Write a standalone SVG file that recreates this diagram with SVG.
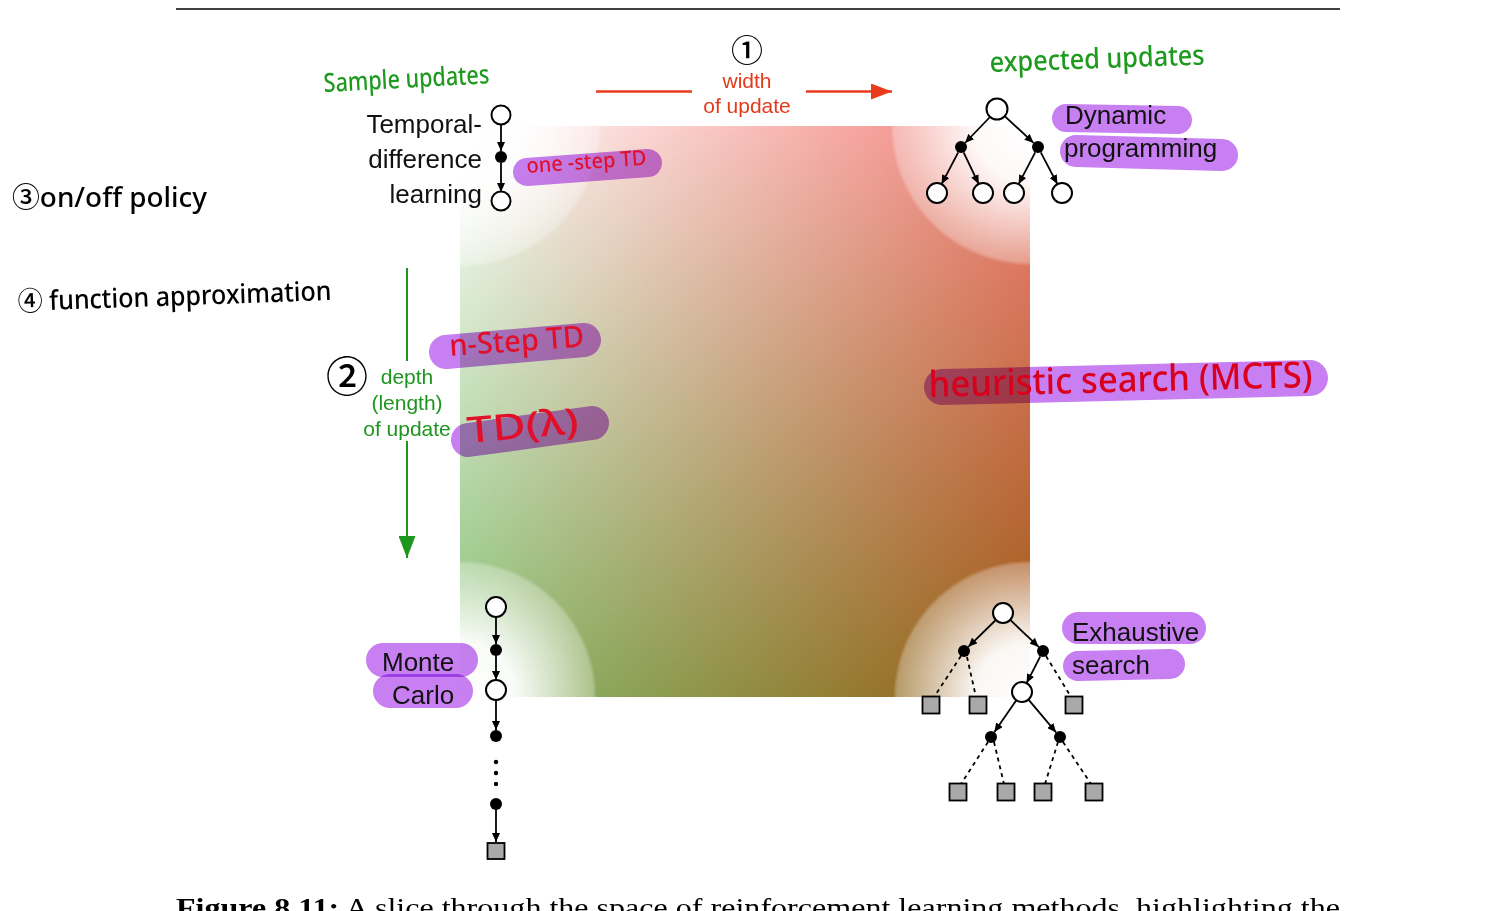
<svg xmlns="http://www.w3.org/2000/svg" width="1500" height="911" viewBox="0 0 1500 911">
<style>
.lbl{font-family:"Liberation Sans",Arial,sans-serif;font-size:26px;fill:#111}
.ax{font-family:"Liberation Sans",Arial,sans-serif;font-size:21px}
.hw{font-family:"Noto Sans","Noto Sans CJK SC",sans-serif;font-weight:500}
.hl{fill:none;stroke:#c77ff2;stroke-linecap:round;mix-blend-mode:multiply}
.open{fill:#fff;stroke:#000;stroke-width:2}
.fill{fill:#000}
.sq{fill:#a9a9a9;stroke:#000;stroke-width:1.8}
.ar{stroke:#000;stroke-width:1.8;fill:none;marker-end:url(#ah)}
.ds{stroke:#000;stroke-width:1.8;fill:none;stroke-dasharray:4 4}
</style>
<defs>
<marker id="ah" markerUnits="userSpaceOnUse" markerWidth="9" markerHeight="8" refX="9" refY="4" orient="auto"><path d="M0,0 L9,4 L0,8 z" fill="#000"/></marker>
<marker id="ahr" markerUnits="userSpaceOnUse" markerWidth="21" markerHeight="16" refX="21" refY="8" orient="auto"><path d="M0,0 L21,8 L0,16 z" fill="#ea3a1c"/></marker>
<marker id="ahg" markerUnits="userSpaceOnUse" markerWidth="22" markerHeight="17" refX="22" refY="8.5" orient="auto"><path d="M0,0 L22,8.5 L0,17 z" fill="#1e951e"/></marker>
<linearGradient id="gTop" x1="0" y1="0" x2="1" y2="0"><stop offset="0" stop-color="#ffffff"/><stop offset="1" stop-color="#f27f78"/></linearGradient>
<linearGradient id="gBot" x1="0" y1="0" x2="1" y2="0"><stop offset="0" stop-color="#84bf70"/><stop offset="1" stop-color="#9c5a14"/></linearGradient>
<linearGradient id="vm" x1="0" y1="0" x2="0" y2="1"><stop offset="0" stop-color="#fff" stop-opacity="0"/><stop offset="1" stop-color="#fff" stop-opacity="1"/></linearGradient>
<mask id="m" maskUnits="userSpaceOnUse" x="460" y="126" width="570" height="571"><rect x="460" y="126" width="570" height="571" fill="url(#vm)"/></mask>
<radialGradient id="corner"><stop offset="0" stop-color="#fff" stop-opacity="1"/><stop offset="0.4" stop-color="#fff" stop-opacity="0.95"/><stop offset="0.97" stop-color="#fff" stop-opacity="0.3"/><stop offset="1" stop-color="#fff" stop-opacity="0"/></radialGradient>
<clipPath id="sqc"><rect x="460" y="126" width="570" height="571"/></clipPath>
</defs>
<rect width="1500" height="911" fill="#fff"/>
<line x1="176" y1="9" x2="1340" y2="9" stroke="#000" stroke-width="1.4"/>

<g id="space">
<rect x="460" y="126" width="570" height="571" fill="url(#gTop)"/>
<rect x="460" y="126" width="570" height="571" fill="url(#gBot)" mask="url(#m)"/>
<g clip-path="url(#sqc)">
<circle cx="460" cy="126" r="142" fill="url(#corner)"/>
<circle cx="1030" cy="126" r="140" fill="url(#corner)"/>
<circle cx="460" cy="697" r="137" fill="url(#corner)"/>
<circle cx="1030" cy="697" r="137" fill="url(#corner)"/>
</g>
</g>

<g id="connectors">
<line x1="596" y1="91.5" x2="692" y2="91.5" stroke="#ea3a1c" stroke-width="2.5"/>
<line x1="806" y1="91.5" x2="892" y2="91.5" stroke="#ea3a1c" stroke-width="2.5" marker-end="url(#ahr)"/>
<line x1="407" y1="268" x2="407" y2="361" stroke="#1e951e" stroke-width="2"/>
<line x1="407" y1="441" x2="407" y2="558" stroke="#1e951e" stroke-width="2" marker-end="url(#ahg)"/>
<line class="ar" x1="501" y1="125" x2="501" y2="151"/>
<line class="ar" x1="501" y1="163" x2="501" y2="192"/>
<line class="ar" x1="990" y1="117" x2="965" y2="143"/>
<line class="ar" x1="1004.7" y1="116.1" x2="1033.6" y2="142.9"/>
<line class="ar" x1="958.2" y1="152.3" x2="941.6" y2="184.1"/>
<line class="ar" x1="963.6" y1="152.4" x2="978.7" y2="184"/>
<line class="ar" x1="1035.2" y1="152.3" x2="1018.6" y2="184.1"/>
<line class="ar" x1="1040.8" y1="152.3" x2="1057.4" y2="184.1"/>
<line class="ar" x1="496" y1="617" x2="496" y2="644"/>
<line class="ar" x1="496" y1="656" x2="496" y2="680"/>
<line class="ar" x1="496" y1="700" x2="496" y2="730"/>
<line class="ar" x1="496" y1="809" x2="496" y2="842"/>
<line class="ar" x1="995.8" y1="620" x2="968.3" y2="646.8"/>
<line class="ar" x1="1010.2" y1="619.9" x2="1038.7" y2="646.9"/>
<line class="ar" x1="1040.3" y1="656.3" x2="1026.6" y2="683.1"/>
<line class="ar" x1="1016.3" y1="700.2" x2="994.4" y2="732.1"/>
<line class="ar" x1="1028.5" y1="699.6" x2="1056.1" y2="732.4"/>
<line class="ds" x1="961" y1="656" x2="934" y2="697"/>
<line class="ds" x1="967" y1="657" x2="976" y2="697"/>
<line class="ds" x1="1046" y1="656" x2="1071" y2="697"/>
<line class="ds" x1="988" y1="742" x2="961" y2="784"/>
<line class="ds" x1="994" y1="742" x2="1004" y2="784"/>
<line class="ds" x1="1058" y1="742" x2="1045" y2="784"/>
<line class="ds" x1="1063" y1="742" x2="1091" y2="784"/>
</g>

<g id="axis-width">
<text class="hw" x="747" y="62" font-size="32" text-anchor="middle" fill="#000">①</text>
<text class="ax" x="747" y="88" text-anchor="middle" fill="#e5391c">width</text>
<text class="ax" x="747" y="113" text-anchor="middle" fill="#e5391c">of update</text>
</g>
<g id="axis-depth">
<text class="hw" x="347" y="392" font-size="42" text-anchor="middle" fill="#000">②</text>
<text class="ax" x="407" y="384" font-size="20" text-anchor="middle" fill="#1e951e">depth</text>
<text class="ax" x="407" y="410" font-size="20" text-anchor="middle" fill="#1e951e">(length)</text>
<text class="ax" x="407" y="436" font-size="20" text-anchor="middle" fill="#1e951e">of update</text>
</g>

<g id="sample-updates"><text class="hw" x="324" y="92" font-size="26" textLength="166" lengthAdjust="spacingAndGlyphs" fill="#1e9a1e" transform="rotate(-3 324 92)">Sample updates</text></g>
<g id="expected-updates"><text class="hw" x="990" y="72" font-size="28" textLength="215" lengthAdjust="spacingAndGlyphs" fill="#1e9a1e" transform="rotate(-2 990 72)">expected updates</text></g>
<g id="on-off-policy"><text class="hw" x="12" y="207" font-size="27" textLength="195" lengthAdjust="spacingAndGlyphs" fill="#000">③on/off policy</text></g>
<g id="function-approx"><text class="hw" x="18" y="311" font-size="27" textLength="314" lengthAdjust="spacingAndGlyphs" fill="#000" transform="rotate(-2 18 311)">④ function approximation</text></g>

<g id="td">
<text class="lbl" x="482" y="133" text-anchor="end">Temporal-</text>
<text class="lbl" x="482" y="168" text-anchor="end">difference</text>
<text class="lbl" x="482" y="203" text-anchor="end">learning</text>
<circle class="open" cx="501" cy="115" r="9.5"/>
<circle class="fill" cx="501" cy="157" r="6"/>
<circle class="open" cx="501" cy="201" r="9.5"/>
</g>
<g id="one-step-td">
<line class="hl" x1="527" y1="172" x2="648" y2="163" stroke-width="28"/>
<text class="hw" x="527" y="173" font-size="21" textLength="120" lengthAdjust="spacingAndGlyphs" fill="#e0102a" transform="rotate(-4 527 173)">one -step TD</text>
</g>

<g id="dp">
<line class="hl" x1="1066" y1="118" x2="1178" y2="120" stroke-width="28"/>
<line class="hl" x1="1076" y1="151" x2="1222" y2="155" stroke-width="32"/>
<text class="lbl" x="1065" y="124">Dynamic</text>
<text class="lbl" x="1064" y="157">programming</text>
<circle class="open" cx="997" cy="109" r="10.5"/>
<circle class="fill" cx="961" cy="147" r="6"/>
<circle class="fill" cx="1038" cy="147" r="6"/>
<circle class="open" cx="937" cy="193" r="10"/>
<circle class="open" cx="983" cy="193" r="10"/>
<circle class="open" cx="1014" cy="193" r="10"/>
<circle class="open" cx="1062" cy="193" r="10"/>
</g>

<g id="n-step-td">
<line class="hl" x1="446" y1="352" x2="584" y2="340" stroke-width="34"/>
<text class="hw" x="450" y="356" font-size="30" textLength="135" lengthAdjust="spacingAndGlyphs" fill="#e0102a" transform="rotate(-4 450 356)">n-Step TD</text>
</g>
<g id="td-lambda">
<line class="hl" x1="468" y1="440" x2="592" y2="423" stroke-width="34"/>
<text class="hw" x="468" y="443" font-size="36" textLength="112" lengthAdjust="spacingAndGlyphs" fill="#e0102a" transform="rotate(-5 468 443)">TD(λ)</text>
</g>
<g id="heuristic-search">
<line class="hl" x1="942" y1="387" x2="1310" y2="378" stroke-width="36"/>
<text class="hw" x="929" y="397" font-size="36" textLength="384" lengthAdjust="spacingAndGlyphs" fill="#d8001c" transform="rotate(-1.5 929 397)">heuristic search (MCTS)</text>
</g>

<g id="mc">
<line class="hl" x1="383" y1="660" x2="461" y2="660" stroke-width="34"/>
<line class="hl" x1="390" y1="691" x2="456" y2="691" stroke-width="34"/>
<text class="lbl" x="382" y="671">Monte</text>
<text class="lbl" x="392" y="704">Carlo</text>
<circle class="open" cx="496" cy="607" r="10"/>
<circle class="fill" cx="496" cy="650" r="6"/>
<circle class="open" cx="496" cy="690" r="10"/>
<circle class="fill" cx="496" cy="736" r="6"/>
<circle class="fill" cx="496" cy="762" r="2.2"/>
<circle class="fill" cx="496" cy="773" r="2.2"/>
<circle class="fill" cx="496" cy="784" r="2.2"/>
<circle class="fill" cx="496" cy="804" r="6"/>
<rect class="sq" x="487.5" y="843" width="17" height="16"/>
</g>

<g id="es">
<line class="hl" x1="1078" y1="628" x2="1190" y2="628" stroke-width="32"/>
<line class="hl" x1="1078" y1="666" x2="1170" y2="664" stroke-width="30"/>
<text class="lbl" x="1072" y="641">Exhaustive</text>
<text class="lbl" x="1072" y="674">search</text>
<circle class="open" cx="1003" cy="613" r="10"/>
<circle class="fill" cx="964" cy="651" r="6"/>
<circle class="fill" cx="1043" cy="651" r="6"/>
<circle class="open" cx="1022" cy="692" r="10"/>
<circle class="fill" cx="991" cy="737" r="6"/>
<circle class="fill" cx="1060" cy="737" r="6"/>
<rect class="sq" x="922.5" y="696.5" width="17" height="17"/>
<rect class="sq" x="969.5" y="696.5" width="17" height="17"/>
<rect class="sq" x="1065.5" y="696.5" width="17" height="17"/>
<rect class="sq" x="949.5" y="783.5" width="17" height="17"/>
<rect class="sq" x="997.5" y="783.5" width="17" height="17"/>
<rect class="sq" x="1034.5" y="783.5" width="17" height="17"/>
<rect class="sq" x="1085.5" y="783.5" width="17" height="17"/>
</g>

<text x="176" y="917" font-family="'Liberation Serif',serif" font-size="28" textLength="1164" lengthAdjust="spacingAndGlyphs" fill="#000"><tspan font-weight="bold">Figure 8.11:</tspan> A slice through the space of reinforcement learning methods, highlighting the</text>
</svg>
